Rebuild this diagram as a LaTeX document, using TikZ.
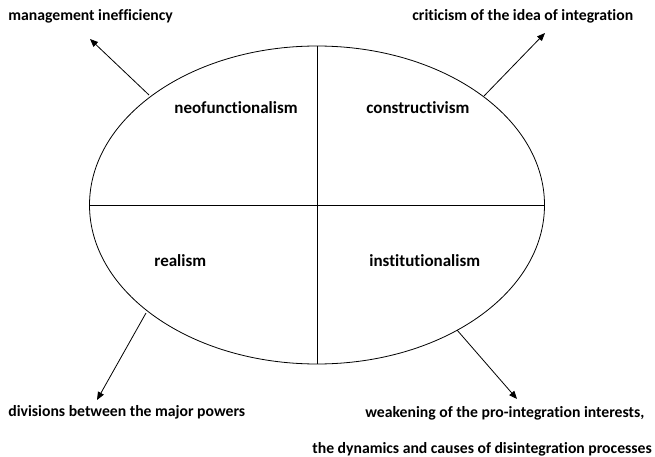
\documentclass[tikz,border=0pt]{standalone}
\usepackage{fontspec}
\setmainfont{Carlito}[Ligatures=NoCommon]
\usetikzlibrary{arrows.meta}
\begin{document}
\begin{tikzpicture}[x=1pt,y=-1pt,
  line width=0.8pt,
  lbl/.style={font=\bfseries\fontsize{15.7}{18}\selectfont, inner sep=0pt, anchor=west},
  quad/.style={lbl, font=\bfseries\fontsize{17}{20}\selectfont},
  link/.style={-{Triangle[length=8pt,width=6.5pt]}}]
\useasboundingbox (0,0) rectangle (655,457);
% outer ellipse split into four quadrants
\draw (317,205) ellipse [x radius=227.5, y radius=159];
\coordinate (top) at (317,46);
\coordinate (bot) at (317,364);
\coordinate (lft) at (89.5,205);
\coordinate (rgt) at (544.5,205);
\draw (top) -- (bot);
\draw (lft) -- (rgt);
% quadrant labels
\node[quad] (neo) at (174,108) {neofunctionalism};
\node[quad] (con) at (366,108) {constructivism};
\node[quad] (rea) at (154,261) {realism};
\node[quad] (ins) at (369,261) {institutionalism};
% outer labels
\node[lbl] (mi) at (8,16) {management inefficiency};
\node[lbl] (ci) at (412,16) {criticism of the idea of integration};
\node[lbl] (dv) at (8,412) {divisions between the major powers};
\node[lbl] (wk) at (365,413) {weakening of the pro-integration interests,};
\node[lbl] (dy) at (312,449) {the dynamics and causes of disintegration processes};
% arrows leaving the ellipse
\coordinate (a1) at (149,95);  \coordinate (t1) at (90,39);
\coordinate (a2) at (484,96);  \coordinate (t2) at (545,33);
\coordinate (a3) at (146,313); \coordinate (t3) at (97,400);
\coordinate (a4) at (457,330); \coordinate (t4) at (517,399);
\draw[link] (a1) -- (t1);
\draw[link] (a2) -- (t2);
\draw[link] (a3) -- (t3);
\draw[link] (a4) -- (t4);
\end{tikzpicture}
\end{document}
